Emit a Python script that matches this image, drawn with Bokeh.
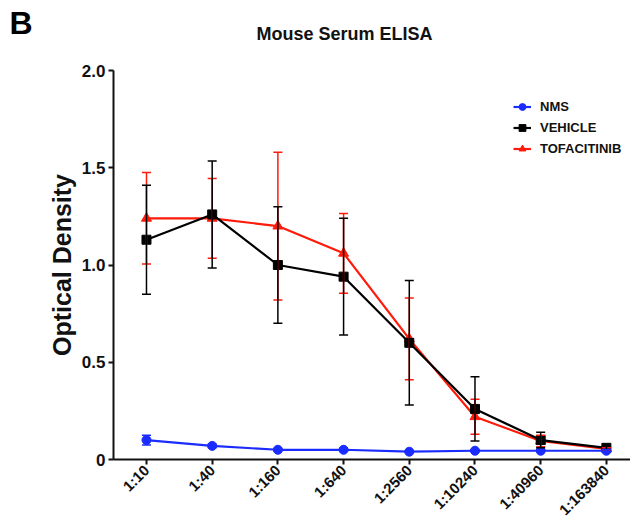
import math
from bokeh.plotting import figure
from bokeh.layouts import column
from bokeh.models import (ColumnDataSource, Whisker, TeeHead, Range1d, FixedTicker,
                          Legend, LegendItem, Label, NumeralTickFormatter, LinearAxis)
from bokeh.embed import file_html
from bokeh.resources import INLINE

dilutions = ["1:10", "1:40", "1:160", "1:640", "1:2560", "1:10240", "1:40960", "1:163840"]

nms_mean = [0.10, 0.07, 0.05, 0.05, 0.04, 0.045, 0.045, 0.045]
nms_err = [0.025, 0.008, 0.006, 0.006, 0.005, 0.005, 0.005, 0.005]

vehicle_mean = [1.13, 1.26, 1.00, 0.94, 0.60, 0.26, 0.10, 0.06]
vehicle_err = [0.28, 0.275, 0.30, 0.30, 0.32, 0.165, 0.04, 0.008]

tofa_mean = [1.24, 1.24, 1.20, 1.06, 0.62, 0.22, 0.095, 0.055]
tofa_err = [0.235, 0.205, 0.38, 0.205, 0.21, 0.09, 0.03, 0.006]

y_ticks = [0, 0.5, 1.0, 1.5, 2.0]

FONT = "Liberation Sans"
W = 630
HEAD_H = 44
LEFT = 113

# ---- header (panel letter + title) ----
head = figure(width=W, height=HEAD_H, output_backend="svg", toolbar_location=None,
              x_range=Range1d(LEFT, W), y_range=Range1d(0, HEAD_H),
              min_border_left=LEFT, min_border_right=0, min_border_top=0, min_border_bottom=0,
              x_axis_location=None, y_axis_location=None)
head.outline_line_color = None
head.xgrid.visible = False
head.ygrid.visible = False
letter_axis = LinearAxis(ticker=FixedTicker(ticks=[]), axis_line_color=None,
                         major_tick_line_color=None, minor_tick_line_color=None,
                         axis_label="B", axis_label_orientation="horizontal",
                         axis_label_standoff=81, axis_label_text_font=FONT,
                         axis_label_text_font_style="bold", axis_label_text_font_size="32px",
                         axis_label_text_color="#000000")
head.add_layout(letter_axis, "left")
head.add_layout(Label(x=344, y=HEAD_H - 33.5, text="Mouse Serum ELISA", text_align="center",
                      text_baseline="middle", text_font=FONT, text_font_style="bold",
                      text_font_size="18px", text_color="#111111"))

# ---- main chart ----
p = figure(width=W, height=527 - HEAD_H, output_backend="svg", toolbar_location=None,
           x_range=Range1d(-0.502, 7.367), y_range=Range1d(0, 2.0),
           min_border_left=LEFT, min_border_right=0, min_border_top=70 - HEAD_H,
           min_border_bottom=68)
p.outline_line_color = None
p.xgrid.visible = False
p.ygrid.visible = False

xs = list(range(len(dilutions)))

series = [
    ("TOFACITINIB", tofa_mean, tofa_err, "#ff1a0a", "triangle", 10),
    ("VEHICLE", vehicle_mean, vehicle_err, "#000000", "square", 9),
    ("NMS", nms_mean, nms_err, "#1a2cff", "circle", 9),
]

items = {}
for name, mean, err, color, marker, size in series:
    src = ColumnDataSource(dict(
        x=xs, y=mean,
        upper=[m + e for m, e in zip(mean, err)],
        lower=[m - e for m, e in zip(mean, err)],
    ))
    w = Whisker(source=src, base="x", upper="upper", lower="lower",
                line_color=color, line_width=1.5, level="glyph",
                upper_head=TeeHead(size=9, line_color=color, line_width=1.5),
                lower_head=TeeHead(size=9, line_color=color, line_width=1.5))
    p.add_layout(w)
    ln = p.line("x", "y", source=src, line_color=color, line_width=2.2)
    sc = p.scatter("x", "y", source=src, marker=marker, size=size,
                   fill_color=color, line_color=color)
    items[name] = [ln, sc]

legend = Legend(items=[LegendItem(label=n, renderers=items[n]) for n in ["NMS", "VEHICLE", "TOFACITINIB"]],
                location=(400, 302), border_line_color=None, background_fill_alpha=0,
                padding=0, margin=0, spacing=4, glyph_width=18, glyph_height=17,
                label_height=17, label_standoff=9,
                label_text_font=FONT, label_text_font_style="bold",
                label_text_font_size="13px", label_text_color="#111111")
p.add_layout(legend)

# Axes
p.yaxis.ticker = FixedTicker(ticks=y_ticks)
p.yaxis.formatter = NumeralTickFormatter(format="0.0")
p.yaxis.major_label_overrides = {0: "0"}
p.xaxis.ticker = FixedTicker(ticks=xs)
p.xaxis.major_label_overrides = {i: d for i, d in enumerate(dilutions)}
p.xaxis.major_label_orientation = math.pi / 4

for ax in (p.xaxis, p.yaxis):
    ax.axis_line_width = 2
    ax.axis_line_color = "#111111"
    ax.major_tick_line_width = 2
    ax.major_tick_line_color = "#111111"
    ax.major_tick_in = 0
    ax.major_tick_out = 5
    ax.minor_tick_line_color = None
    ax.major_label_text_font = FONT
    ax.major_label_text_font_style = "bold"
    ax.major_label_text_color = "#111111"

p.yaxis.major_label_text_font_size = "17px"
p.xaxis.major_label_text_font_size = "15px"
p.yaxis.major_label_standoff = 3
p.xaxis.major_label_standoff = 3
p.yaxis.axis_label = "Optical Density"
p.yaxis.axis_label_text_font = FONT
p.yaxis.axis_label_text_font_style = "bold"
p.yaxis.axis_label_text_font_size = "25px"
p.yaxis.axis_label_text_color = "#111111"
p.yaxis.axis_label_standoff = 3

layout = column(head, p, spacing=0)
open("out.html", "w").write(file_html(layout, INLINE))
